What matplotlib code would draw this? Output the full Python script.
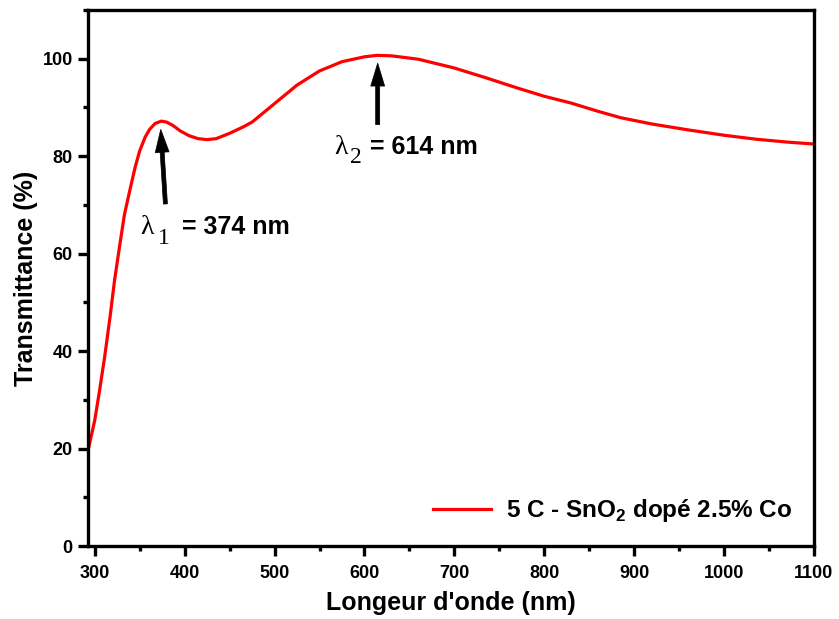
import matplotlib
matplotlib.use("Agg")
import matplotlib.pyplot as plt
from matplotlib.ticker import MultipleLocator

plt.rcParams['font.family'] = ['Liberation Sans', 'DejaVu Sans']
plt.rcParams['font.weight'] = 'bold'
plt.rcParams['mathtext.fontset'] = 'custom'
plt.rcParams['mathtext.rm'] = 'Liberation Sans:bold'
plt.rcParams['mathtext.bf'] = 'Liberation Sans:bold'

# Transmittance spectrum
wavelength = [292.5, 296, 300, 305, 311, 317, 322, 328, 333, 339, 345, 350, 356,
              361, 367, 374, 380, 387, 395, 405, 415, 425, 435, 450, 465, 475,
              500, 525, 550, 575, 600, 614, 630, 660, 700, 735, 770, 800, 830,
              860, 885, 920, 960, 1000, 1035, 1070, 1100]
transmittance = [19.6, 22.5, 25.8, 31.5, 38.8, 47.0, 54.5, 62.0, 68.0, 73.0,
                 77.8, 81.1, 83.9, 85.5, 86.7, 87.2, 87.0, 86.3, 85.2, 84.2,
                 83.6, 83.4, 83.6, 84.7, 86.0, 87.0, 90.8, 94.6, 97.5, 99.4,
                 100.4, 100.7, 100.6, 99.9, 98.1, 96.1, 94.0, 92.3, 90.9, 89.2,
                 87.9, 86.6, 85.4, 84.3, 83.5, 82.9, 82.5]
series_label = "5 C - SnO$_{\\mathbf{2}}$ dopé 2.5% Co"

# peak annotations
peak_nm = ["374", "614"]
arrow_tip = [(373.4, 85.5), (614.7, 99.1)]
arrow_tail = [(378.6, 70.2), (614.7, 86.5)]

fig = plt.figure(figsize=(8.39, 6.19), dpi=100)
ax = fig.add_axes([0.1049, 0.1179, 0.8653, 0.8659])

ax.plot(wavelength, transmittance, color='red', lw=2.3, label=series_label)

ax.set_xlim(292.5, 1100)
ax.set_ylim(0, 110)
ax.xaxis.set_major_locator(MultipleLocator(100))
ax.xaxis.set_minor_locator(MultipleLocator(50))
ax.set_yticks([0, 20, 40, 60, 80, 100])
ax.yaxis.set_minor_locator(MultipleLocator(10))

for s in ax.spines.values():
    s.set_linewidth(2.4)
ax.tick_params(which='major', direction='out', length=7, width=2.4, labelsize=13)
ax.tick_params(which='minor', direction='out', length=3.5, width=2.4)
ax.tick_params(top=False, right=False, which='both')
ax.tick_params(axis='x', pad=7)
ax.tick_params(axis='y', pad=4)

ax.set_xlabel("Longeur d'onde (nm)", fontsize=18, fontweight='bold', labelpad=6.5)
ax.set_ylabel("Transmittance (%)", fontsize=18, fontweight='bold', labelpad=3.5)

# arrows
for tip, tail in zip(arrow_tip, arrow_tail):
    ax.annotate('', xy=tip, xytext=tail,
                arrowprops=dict(facecolor='black', edgecolor='black', lw=0.5,
                                width=2.9, headwidth=10, headlength=16.5, shrink=0.0))

# labels: serif lambda with subscript, bold sans value
lam_pos = [(350.8, 64.1), (566.9, 80.4)]
sub_pos = [(370.0, 62.0), (583.6, 78.7)]
val_pos = [(457.3, 64.1), (666.5, 80.4)]
for i in range(2):
    ax.text(*lam_pos[i], "λ", family='Liberation Serif', fontweight='normal',
            fontsize=20, ha='left', va='baseline')
    ax.text(*sub_pos[i], str(i + 1), family='Liberation Serif', fontweight='normal',
            fontsize=17, ha='left', va='baseline')
    ax.text(*val_pos[i], "= " + peak_nm[i] + " nm", fontsize=18, fontweight='bold',
            ha='center', va='baseline')

ax.legend(loc='lower right', frameon=False, fontsize=17.5, handlelength=2.4,
          handletextpad=0.6, borderaxespad=0.5)

fig.savefig("out.png", dpi=100)
